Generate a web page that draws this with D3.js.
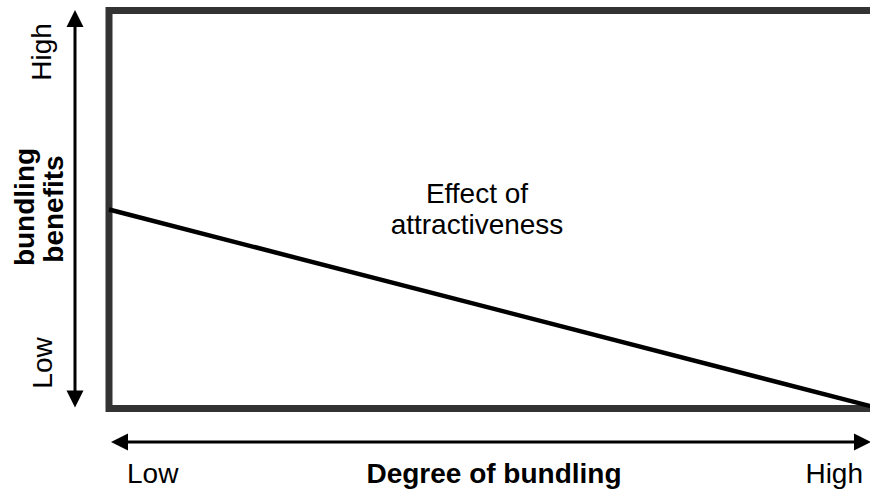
<!DOCTYPE html>
<html>
<head>
<meta charset="utf-8">
<script src="https://cdn.jsdelivr.net/npm/d3@7"></script>
<style>
  html, body { margin: 0; padding: 0; background: #fff; }
  svg { display: block; }
  text { font-family: "Liberation Sans", Arial, sans-serif; fill: #000; }
</style>
</head>
<body>
<svg id="chart" width="870" height="491"></svg>
<script>
// Data
const xLevels = ["Low", "High"];
const yLevels = ["Low", "High"];
const xTitle = "Degree of bundling";
const yTitle = ["bundling", "benefits"];
const curveLabel = ["Effect of", "attractiveness"];
const effectX = [0, 1];
const effectY = [0.5, 0.005];

const svg = d3.select("#chart");
const W = 870, H = 491;

const x = d3.scaleLinear().domain([0, 1]).range([109, 872]);
const y = d3.scaleLinear().domain([0, 1]).range([408.5, 10.5]);

// Frame (open to the right, extends beyond view)
svg.append("path")
  .attr("d", `M${x(1) + 20},${y(1)} L${x(0)},${y(1)} L${x(0)},${y(0)} L${x(1) + 20},${y(0)}`)
  .attr("fill", "none")
  .attr("stroke", "#333")
  .attr("stroke-width", 7)
  .attr("stroke-linejoin", "miter");

// Effect line
const line = d3.line().x(d => x(d[0])).y(d => y(d[1]));
svg.append("path")
  .datum(effectX.map((v, i) => [v, effectY[i]]))
  .attr("d", line)
  .attr("fill", "none")
  .attr("stroke", "#000")
  .attr("stroke-width", 4.5);

// Curve label
svg.append("text")
  .attr("x", 477).attr("y", 203)
  .attr("text-anchor", "middle")
  .attr("font-size", 28)
  .selectAll("tspan").data(curveLabel).join("tspan")
  .attr("x", 477)
  .attr("dy", (d, i) => i === 0 ? 0 : 31)
  .text(d => d);

// Arrowhead helper
function arrowHead(tipX, tipY, dir) {
  const L = 17, Wd = 8.5;
  let pts;
  if (dir === "up") pts = [[tipX, tipY], [tipX - Wd, tipY + L], [tipX + Wd, tipY + L]];
  if (dir === "down") pts = [[tipX, tipY], [tipX - Wd, tipY - L], [tipX + Wd, tipY - L]];
  if (dir === "left") pts = [[tipX, tipY], [tipX + L, tipY - Wd], [tipX + L, tipY + Wd]];
  if (dir === "right") pts = [[tipX, tipY], [tipX - L, tipY - Wd], [tipX - L, tipY + Wd]];
  svg.append("path").attr("d", "M" + pts.join("L") + "Z").attr("fill", "#000");
}

// Vertical axis arrow
const vx = 75;
svg.append("line")
  .attr("x1", vx).attr("x2", vx)
  .attr("y1", y(1) + 10).attr("y2", y(0) - 10)
  .attr("stroke", "#000").attr("stroke-width", 3);
arrowHead(vx, y(1) - 0.5, "up");
arrowHead(vx, y(0) - 1, "down");

// Horizontal axis arrow
const hy = 442;
svg.append("line")
  .attr("x1", x(0) + 10).attr("x2", x(1) - 10)
  .attr("y1", hy).attr("y2", hy)
  .attr("stroke", "#000").attr("stroke-width", 3);
arrowHead(x(0) + 2, hy, "left");
arrowHead(x(1) - 1, hy, "right");

// X level labels
svg.append("text").attr("x", 127).attr("y", 483).attr("font-size", 28).text(xLevels[0]);
svg.append("text").attr("x", 863).attr("y", 483).attr("font-size", 28).attr("text-anchor", "end").text(xLevels[1]);
svg.append("text").attr("x", 494).attr("y", 483).attr("font-size", 28)
  .attr("font-weight", "bold").attr("text-anchor", "middle").text(xTitle);

// Y level labels (rotated)
svg.append("text").attr("transform", "translate(51,52) rotate(-90)")
  .attr("font-size", 28).attr("text-anchor", "middle").text(yLevels[1]);
svg.append("text").attr("transform", "translate(52,363) rotate(-90)")
  .attr("font-size", 28).attr("text-anchor", "middle").text(yLevels[0]);

// Y title (rotated, bold, two lines)
svg.append("text").attr("transform", "translate(34,207) rotate(-90)")
  .attr("font-size", 28).attr("font-weight", "bold").attr("text-anchor", "middle").text(yTitle[0]);
svg.append("text").attr("transform", "translate(63,209) rotate(-90)")
  .attr("font-size", 28).attr("font-weight", "bold").attr("text-anchor", "middle").text(yTitle[1]);
</script>
</body>
</html>
